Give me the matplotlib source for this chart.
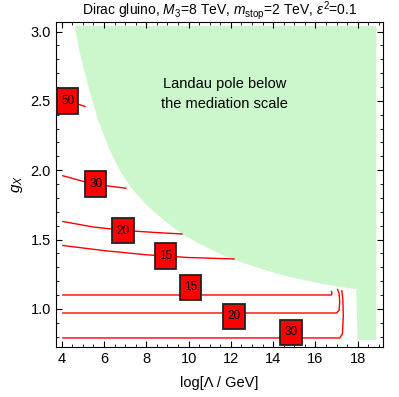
import matplotlib
matplotlib.use("Agg")
import matplotlib.pyplot as plt
from matplotlib.patches import Rectangle
from matplotlib.ticker import MultipleLocator

plt.rcParams['font.family'] = ['Liberation Sans', 'DejaVu Sans']
plt.rcParams['mathtext.fontset'] = 'custom'
plt.rcParams['mathtext.rm'] = 'Liberation Sans'
plt.rcParams['mathtext.it'] = 'Liberation Sans:italic'

# ==================== data ====================
# Landau pole boundary (edge of green region), top-left -> bottom -> right side
landau_x = [4.62, 4.8, 5.04, 5.35, 5.7, 6.2, 6.7, 7.3, 8.0, 8.9, 9.7, 10.5, 11.3,
            12.1, 13.4, 14.76, 16.3, 17.93, 18.0, 18.88, 18.88]
landau_y = [3.04, 2.88, 2.73, 2.55, 2.37, 2.17, 2.01, 1.87, 1.75, 1.63, 1.54, 1.47, 1.41,
            1.355, 1.29, 1.23, 1.18, 1.14, 0.775, 0.775, 3.04]

# contours (fine-tuning level)
c50_x = [3.8, 4.3, 5.1]
c50_y = [2.52, 2.50, 2.46]

c30a_x = [4.05, 5.0, 6.0, 7.03]
c30a_y = [1.96, 1.92, 1.89, 1.87]

c20a_x = [4.05, 5.5, 7.0, 8.5, 9.69]
c20a_y = [1.63, 1.59, 1.565, 1.55, 1.54]

c15a_x = [4.05, 6.0, 8.0, 10.0, 12.15]
c15a_y = [1.457, 1.42, 1.39, 1.37, 1.36]

c15b_x = [4.05, 10.0, 16.75, 16.78, 16.77]
c15b_y = [1.10, 1.10, 1.10, 1.11, 1.125]

c20b_x = [4.05, 10.0, 17.0, 17.12, 17.15, 17.12, 17.05]
c20b_y = [0.97, 0.97, 0.97, 0.99, 1.05, 1.11, 1.14]

c30b_x = [4.05, 10.0, 17.15, 17.28, 17.32, 17.3, 17.25]
c30b_y = [0.79, 0.79, 0.79, 0.82, 0.95, 1.07, 1.13]

contours = [(c50_x, c50_y), (c30a_x, c30a_y), (c20a_x, c20a_y), (c15a_x, c15a_y),
            (c15b_x, c15b_y), (c20b_x, c20b_y), (c30b_x, c30b_y)]

# label positions and values
label_x = [4.28, 5.6, 6.9, 8.9, 10.1, 12.15, 14.85]
label_y = [2.50, 1.90, 1.565, 1.38, 1.155, 0.945, 0.83]
label_txt = ["50", "30", "20", "15", "15", "20", "30"]


fig = plt.figure(figsize=(3.99, 3.97), dpi=100)
ax = fig.add_axes([0.140, 0.126, 0.820, 0.819])

ax.fill(landau_x, landau_y, color="#ccf7cc", lw=0, zorder=1)

for cx, cy in contours:
    ax.plot(cx, cy, color="red", lw=1.0, zorder=2)

# label boxes: ~22 x 26 px
bw, bh = 1.02, 0.185
for lx, ly, t in zip(label_x, label_y, label_txt):
    ax.add_patch(Rectangle((lx - bw / 2, ly - bh / 2), bw, bh, fc="red",
                           ec="#222222", lw=1.3, zorder=3, clip_on=False))
    ax.text(lx, ly, t, fontsize=8.5, ha="center", va="center", zorder=4)

ax.text(11.7, 2.55, "Landau pole below\nthe mediation scale", fontsize=10.5,
        ha="center", va="center", linespacing=1.5, zorder=3)

ax.set_xlim(3.72, 19.2)
ax.set_ylim(0.725, 3.07)
ax.xaxis.set_major_locator(MultipleLocator(2))
ax.xaxis.set_minor_locator(MultipleLocator(0.5))
ax.yaxis.set_major_locator(MultipleLocator(0.5))
ax.yaxis.set_minor_locator(MultipleLocator(0.1))
ax.yaxis.set_major_formatter(plt.FormatStrFormatter("%.1f"))
ax.tick_params(which="both", direction="in", top=True, right=True, labelsize=10.5)
ax.tick_params(which="major", length=4)
ax.tick_params(which="minor", length=2)

ax.set_xlabel("log[Λ / GeV]", fontsize=10.5, labelpad=7)
ax.set_ylabel("$g_X$", fontsize=11, labelpad=4)
ax.set_title("Dirac gluino, $M_3$=8 TeV, $m_{\\rm stop}$=2 TeV, $\\epsilon^2$=0.1",
             fontsize=10, pad=3)

fig.savefig("out.png", dpi=100)
